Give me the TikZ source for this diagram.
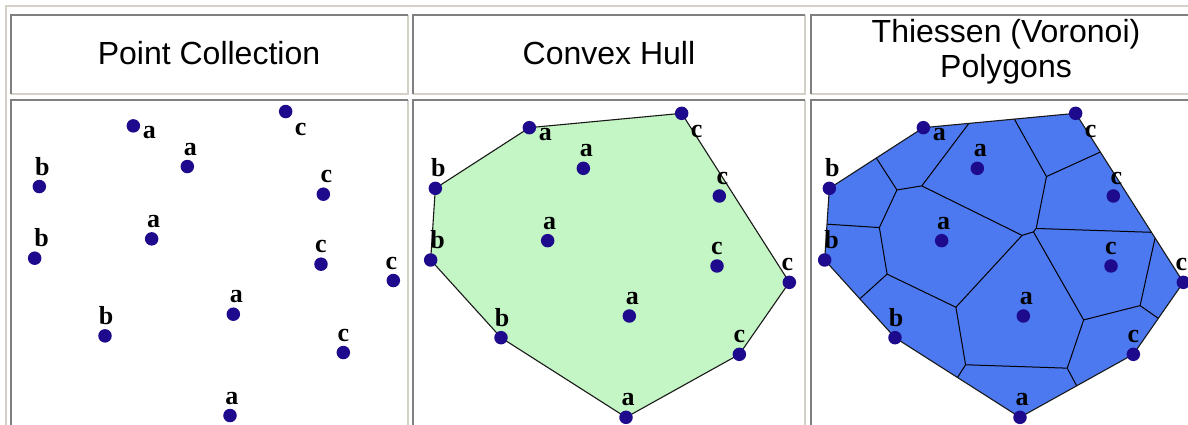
\documentclass[tikz,border=0pt]{standalone}
\usepackage{fontspec}
\setmainfont{Liberation Sans}
\newfontfamily\sitefont{Liberation Serif}

\definecolor{tablelight}{RGB}{212,208,200}
\definecolor{tabledark}{RGB}{128,128,128}
\definecolor{hullgreen}{RGB}{196,245,196}
\definecolor{cellblue}{RGB}{76,120,240}
\definecolor{sitenavy}{RGB}{30,10,140}

% sites, in local units of 1/3 px
\newcommand{\sitecoords}[1]{%
  \foreach \site/\px/\py in {a1/370/113, c1/827/70, a2/532/235, b1/88/295,
      c2/940/318, a3/425/452, b2/74/510, c3/933/528, c4/1150/577,
      a4/670/678, b3/285/743, c5/1000/793, a5/660/982}
    \coordinate (#1\site) at (\px,\py);
}
\newcommand{\sitedots}[1]{%
  \foreach \site/\txt/\dx/\dy in {a1/a/16/-13, c1/c/15/-24, a2/a/3/11.5,
      b1/b/3/11.5, c2/c/3/11.5, a3/a/2/11.5, b2/b/7/11.5, c3/c/0/11.5,
      c4/c/-2/11.5, a4/a/3/11.5, b3/b/1/11.5, c5/c/0/11.5, a5/a/2/11.5}{
    \node[site] (#1\site-dot) at (#1\site) {};
    \node[sitelbl, xshift=\dx pt, yshift=\dy pt] (#1\site-lbl) at (#1\site) {\txt};
  }
}

\begin{document}
\begin{tikzpicture}[
  x=1pt, y=-1pt,
  site/.style={circle, fill=sitenavy, inner sep=0pt, minimum size=13.5pt},
  sitelbl/.style={anchor=base, inner sep=0pt, font=\sitefont\bfseries\fontsize{26}{26}\selectfont},
  header/.style={inner sep=0pt, align=center, font=\fontsize{32}{35}\selectfont},
  hull/.style={draw=black!90, line width=1.1pt, line join=round},
  celledge/.style={black, line width=1pt},
  lightedge/.style={tablelight, line width=2pt},
  darkedge/.style={tabledark, line width=2pt}
]
\useasboundingbox (0,0) rectangle (1188,425);
\clip (0,0) rectangle (1188,425);
\fill[white] (0,0) rectangle (1188,425);

% table frame
\draw[lightedge] (6,440) -- (6,6) -- (1195,6);
\foreach \l/\t/\r/\b in {11/15/407.5/94, 412.5/15/805/94, 811/15/1201/94,
    11/100/407.5/440, 412.5/100/805/440, 811/100/1201/440}{
  \draw[lightedge] (\l,\b) -- (\r,\b) -- (\r,\t);
  \draw[darkedge] (\l,\b) -- (\l,\t) -- (\r,\t);
}

% headers
\node[header, anchor=base] (hpoints) at (209,65) {Point Collection};
\node[header, anchor=base] (hhull) at (609,65) {Convex Hull};
\node[header] (hthiessen) at (1006,52) {Thiessen (Voronoi)\\Polygons};

% point collection
\begin{scope}[shift={(10,88.2)}, x=0.33333pt, y=-0.33333pt]
  \sitecoords{p}
  \sitedots{p}
\end{scope}

% convex hull
\begin{scope}[shift={(406,90)}, x=0.33333pt, y=-0.33333pt]
  \sitecoords{q}
  \path[hull, fill=hullgreen] (qa1) -- (qc1) -- (qc4) -- (qc5) -- (qa5)
    -- (qb3) -- (qb2) -- (qb1) -- cycle;
  \sitedots{q}
\end{scope}

% thiessen polygons
\begin{scope}[shift={(800,90)}, x=0.33333pt, y=-0.33333pt]
  \sitecoords{t}
  \fill[cellblue] (ta1) -- (tc1) -- (tc4) -- (tc5) -- (ta5)
    -- (tb3) -- (tb2) -- (tb1) -- cycle;
  % voronoi vertices
  \coordinate (vA) at (290.8,299.8);
  \coordinate (vB) at (365.4,287.7);
  \coordinate (vC) at (238.1,412.7);
  \coordinate (vD) at (261.3,552.4);
  \coordinate (vE) at (467.7,651.7);
  \coordinate (vF) at (496.7,824.3);
  \coordinate (vG) at (801.8,834.5);
  \coordinate (vH) at (851,689.7);
  \coordinate (vI) at (1020.2,646.9);
  \coordinate (vK) at (739.4,259.7);
  \coordinate (vM1) at (666.3,436.1);
  \coordinate (vM2) at (708.5,415.4);
  \coordinate (vM3) at (700.3,425.6);
  % ends on the hull
  \coordinate (h1) at (229,204);
  \coordinate (h2) at (81,402.5);
  \coordinate (h3) at (179.5,626.5);
  \coordinate (h4) at (472.5,862.5);
  \coordinate (h5) at (830,887.5);
  \coordinate (h6) at (1075,685);
  \coordinate (h7) at (1065.2,444);
  \coordinate (h8) at (1054.4,426.9);
  \coordinate (h9) at (901,186.1);
  \coordinate (h10) at (643,87.3);
  \coordinate (h11) at (506.6,100.1);
  \foreach \p/\q in {h1/vA, vA/vB, vA/vC, vC/h2, vC/vD, vD/h3, vD/vE, vE/vF,
      vF/h4, vF/vG, vG/h5, vG/vH, vH/vI, vI/h6, vI/h7, vH/vM3, vM3/vM2,
      vM3/vM1, vM1/vB, vM1/vE, vB/h11, vM2/vK, vK/h10, vK/h9, vM2/h8}
    \draw[celledge] (\p) -- (\q);
  \path[hull] (ta1) -- (tc1) -- (tc4) -- (tc5) -- (ta5)
    -- (tb3) -- (tb2) -- (tb1) -- cycle;
  \sitedots{t}
\end{scope}
\end{tikzpicture}
\end{document}
